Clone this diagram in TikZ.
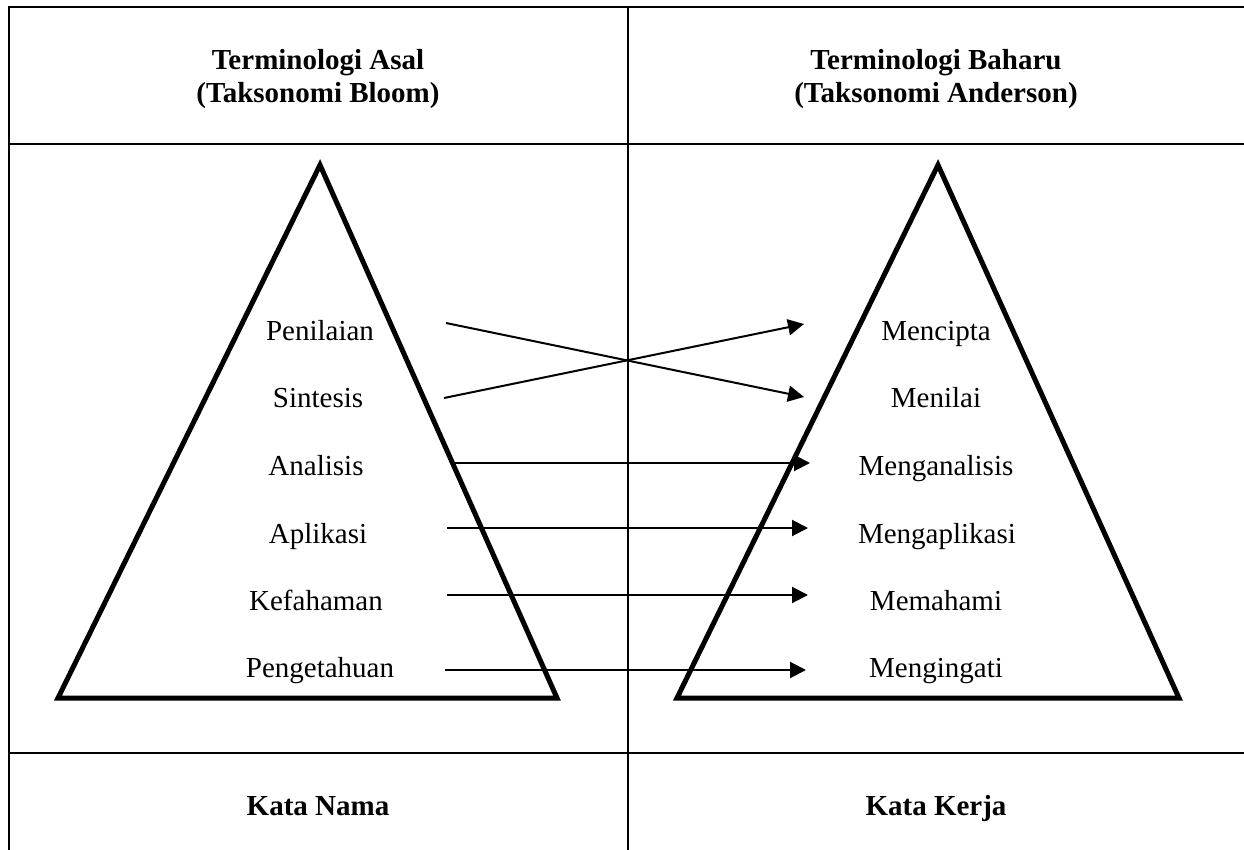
\documentclass[tikz,border=0pt]{standalone}
\usepackage{fontspec}
\setmainfont{Liberation Serif}
\usetikzlibrary{arrows.meta}
\begin{document}
\begin{tikzpicture}[x=1pt,y=-1pt,
  rule/.style={line width=2pt},
  tri/.style={line width=5pt,line join=miter},
  conn/.style={line width=2pt,-{Triangle[length=16pt,width=16pt]}},
  lbl/.style={anchor=base,inner sep=0pt,font=\fontsize{29}{33}\selectfont},
  hdr/.style={anchor=base,inner sep=0pt,font=\fontsize{29}{33}\selectfont\bfseries}]
\useasboundingbox (0,0) rectangle (1244,850);
% table
\draw[rule] (1244,7.5) -- (9,7.5) -- (9,850);
\draw[rule] (628.3,7.5) -- (628.3,850);
\draw[rule] (9,144) -- (1244,144);
\draw[rule] (9,753) -- (1244,753);
% headers
\node[hdr] (h1a) at (318,70) {Terminologi Asal};
\node[hdr] (h1b) at (318,103) {(Taksonomi Bloom)};
\node[hdr] (h2a) at (936,70) {Terminologi Baharu};
\node[hdr] (h2b) at (936,103) {(Taksonomi Anderson)};
\node[hdr] (f1) at (318,815) {Kata Nama};
\node[hdr] (f2) at (936,815) {Kata Kerja};
% triangles
\coordinate (LA) at (320,165);
\coordinate (LB) at (58,698);
\coordinate (LC) at (557,698);
\coordinate (RA) at (938,165);
\coordinate (RB) at (677,698);
\coordinate (RC) at (1179,698);
\draw[tri] (LA) -- (LB) -- (LC) -- cycle;
\draw[tri] (RA) -- (RB) -- (RC) -- cycle;
% left labels
\node[lbl] (penilaian) at (320,340) {Penilaian};
\node[lbl] (sintesis) at (318,407) {Sintesis};
\node[lbl] (analisis) at (316,475) {Analisis};
\node[lbl] (aplikasi) at (318,543) {Aplikasi};
\node[lbl] (kefahaman) at (316,610) {Kefahaman};
\node[lbl] (pengetahuan) at (320,677) {Pengetahuan};
% right labels
\node[lbl] (mencipta) at (936,340) {Mencipta};
\node[lbl] (menilai) at (936,407) {Menilai};
\node[lbl] (menganalisis) at (936,475) {Menganalisis};
\node[lbl] (mengaplikasi) at (937,543) {Mengaplikasi};
\node[lbl] (memahami) at (936,610) {Memahami};
\node[lbl] (mengingati) at (936,677) {Mengingati};
% arrow ends
\coordinate (s1) at (446,323); \coordinate (e1) at (804,397);
\coordinate (s2) at (444,398); \coordinate (e2) at (804,324);
\coordinate (s3) at (450,463); \coordinate (e3) at (810,463);
\coordinate (s4) at (447,528); \coordinate (e4) at (808,528);
\coordinate (s5) at (447,595); \coordinate (e5) at (808,595);
\coordinate (s6) at (445,670); \coordinate (e6) at (806,670);
\draw[conn] (s1) -- (e1);
\draw[conn] (s2) -- (e2);
\draw[conn] (s3) -- (e3);
\draw[conn] (s4) -- (e4);
\draw[conn] (s5) -- (e5);
\draw[conn] (s6) -- (e6);
\end{tikzpicture}
\end{document}
